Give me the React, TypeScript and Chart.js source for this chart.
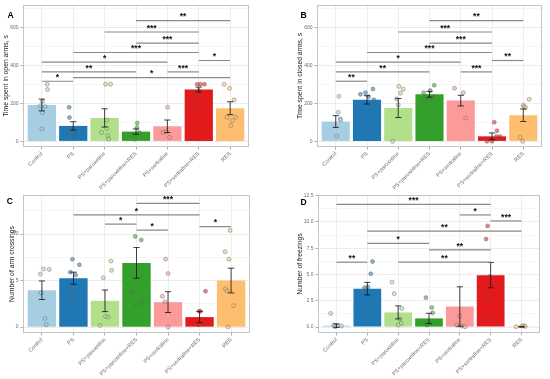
import React, { useEffect, useRef } from 'react';
import { Chart, registerables } from 'chart.js';

Chart.register(...registerables);
Chart.defaults.font.family = '"Liberation Sans", Arial, Helvetica, sans-serif';

// ---------- shared data ----------
const categories = ['Control', 'PS', 'PS+paroxetine', 'PS+paroxetine+RES', 'PS+sertraline', 'PS+sertraline+RES', 'RES'];
const groupColors = ['#A6CEE3', '#1F78B4', '#B2DF8A', '#33A02C', '#FB9A99', '#E31A1C', '#FDBF6F'];

// ---------- Panel A: Time spent in open arms ----------
const meansA = [191, 81, 123, 51, 79, 272, 174];
const seA = [31, 22, 48, 14, 33, 13, 34];
const pointsA = [
  [300, 272, 210, 186, 183, 151, 65],
  [179, 125, 59, 46, 49, 28],
  [300, 300, 112, 68, 46, 30, 11],
  [96, 72, 46, 35, 11],
  [179, 51, 46, 21],
  [300, 300, 300, 267, 247, 200],
  [300, 279, 218, 126, 126, 109, 82],
];
const jitterA = [
  [0.17, 0.18, 0.02, -0.05, 0.1, 0.02, 0],
  [-0.13, -0.12, 0.05, -0.16, 0.05, 0.02],
  [0.03, 0.19, 0.07, 0.07, -0.1, 0.1, 0.13],
  [0.04, 0.03, 0.1, -0.16, -0.04],
  [0.01, -0.03, -0.14, 0.07],
  [-0.05, 0.05, 0.18, 0, -0.1, -0.18],
  [-0.19, -0.02, 0.13, -0.1, 0.18, 0.07, 0.02],
];
const sigA: [number, number, number, string][] = [
  [4, 7, 635, '**'], [3, 6, 575, '***'], [4, 6, 516, '***'], [2, 6, 467, '***'],
  [6, 7, 425, '*'], [1, 5, 416, '*'], [1, 4, 365, '**'], [5, 6, 365, '***'],
  [2, 7, 335, '*'], [1, 2, 316, '*'],
];
const majorTicksA = [0, 200, 400, 600];
const minorTicksA = [100, 300, 500, 700];

// ---------- Panel B: Time spent in closed arms ----------
const meansB = [104, 218, 175, 247, 214, 26, 137];
const seB = [31, 22, 50, 15, 28, 18, 33];
const pointsB = [
  [237, 153, 118, 112, 28],
  [275, 256, 247, 235, 218, 177, 121],
  [289, 274, 253, 223, 191, 0],
  [295, 267, 256, 235, 235, 225, 207],
  [279, 256, 123],
  [100, 56, 25, 25, 0, 0],
  [221, 189, 182, 177, 21, 0],
];
const jitterB = [
  [0.1, 0.08, 0.14, 0.16, 0.03],
  [0.19, -0.05, -0.21, 0.05, 0.22, 0.13, -0.19],
  [0.02, 0.16, 0.07, -0.05, 0, -0.18],
  [0.15, 0.02, -0.19, -0.1, 0.14, 0, -0.17],
  [-0.2, 0.08, 0.16],
  [0.07, 0.16, 0.14, 0.26, -0.16, 0],
  [0.19, 0, 0.03, 0.07, -0.1, -0.02],
];
const sigB: [number, number, number, string][] = [
  [4, 7, 635, '**'], [3, 6, 575, '***'], [4, 6, 516, '***'], [2, 6, 467, '***'],
  [6, 7, 425, '**'], [1, 5, 416, '*'], [1, 4, 365, '**'], [5, 6, 365, '***'],
  [1, 2, 316, '**'],
];
const majorTicksB = [0, 200, 400, 600];
const minorTicksB = [100, 300, 500, 700];

// ---------- Panel C: Number of arm crossings ----------
const meansC = [3.96, 5.25, 2.82, 6.9, 2.68, 1.07, 5.0];
const seC = [1.0, 0.65, 1.16, 1.65, 1.12, 0.6, 1.33];
const pointsC = [
  [6.25, 6.2, 5.7, 3.7, 0.93, 0.25],
  [7.3, 6.7, 5.9, 5.6, 4.2, 3.7, 3.1],
  [7.1, 6.1, 5.3, 1.14, 1.07, 0.18],
  [9.75, 9.36, 6.4, 3.7, 2.68, 2.3],
  [7.3, 5.75, 3.3, 2.7, 0],
  [3.86, 1.7, 1.7, 0.25],
  [10.4, 8.1, 7.3, 4.1, 3.9, 2.3, 0],
];
const jitterC = [
  [0.05, 0.23, -0.05, -0.03, 0.1, 0.14],
  [-0.03, 0.19, -0.1, 0.07, -0.13, -0.02, -0.1],
  [0.19, 0.21, -0.05, 0.02, 0.1, -0.16],
  [-0.04, 0.15, 0.05, -0.13, 0.17, 0],
  [-0.08, 0, -0.18, -0.1, 0],
  [0.19, -0.02, 0.03, -0.04],
  [-0.03, -0.19, -0.07, -0.18, -0.13, 0.08, -0.1],
];
const sigC: [number, number, number, string][] = [
  [4, 6, 13.3, '***'], [2, 6, 12.07, '*'], [3, 4, 11.07, '*'], [6, 7, 10.8, '*'], [4, 5, 10.43, '*'],
];
const majorTicksC = [0, 5, 10];
const minorTicksC = [2.5, 7.5, 12.5];

// ---------- Panel D: Number of freezings ----------
const meansD = [0.13, 3.65, 1.39, 0.82, 1.95, 4.94, 0.02];
const seD = [0.17, 0.6, 0.62, 0.49, 1.88, 1.2, 0.03];
const pointsD = [
  [1.29, 0.19, 0.13, 0.1, 0.03],
  [6.23, 5.07, 3.81, 3.75, 1.7, 1.6],
  [4.28, 3.18, 1.76, 0.76, 0.35, 0.19],
  [2.8, 1.86, 1.35, 0.19],
  [1.04, 0.19, 0.1, 0.03],
  [9.63, 8.37, 4.82, 2.6, 0.76],
  [0.03, 0.1, 0.13, 0.06],
];
const jitterD = [
  [-0.19, -0.09, 0.02, 0.16, -0.05],
  [0.17, 0.11, 0.02, -0.09, 0.15, -0.15],
  [-0.2, -0.13, 0.12, 0.06, 0.1, 0],
  [-0.1, 0.09, 0.12, -0.07],
  [-0.01, -0.1, 0.06, 0.17],
  [-0.1, -0.15, -0.03, -0.1, 0.02],
  [-0.17, 0.01, 0.08, 0.12],
];
const sigD: [number, number, number, string][] = [
  [1, 6, 11.68, '***'], [5, 6, 10.67, '*'], [6, 7, 10.1, '***'], [2, 7, 9.13, '**'],
  [2, 4, 7.97, '*'], [4, 6, 7.34, '**'], [1, 2, 6.17, '**'], [3, 6, 6.17, '**'],
];
const majorTicksD = [0, 2.5, 5, 7.5, 10, 12.5];
const minorTicksD = [1.25, 3.75, 6.25, 8.75, 11.25];

// ---------- panel configs ----------
type Panel = {
  letter: string; title: string;
  means: number[]; se: number[]; points: number[][]; jitter: number[][];
  sig: [number, number, number, string][];
  major: number[]; minor: number[]; decimals: number;
  yMin: number; yMax: number;
  left: number; top: number; w: number; h: number;
  padTop: number; padRight: number; yWidth: number; xHeight: number;
  titlePad: number; letterX: number; letterY: number;
};

const panels: Panel[] = [
  {
    letter: 'A', title: 'Time spent in open arms, s', means: meansA, se: seA, points: pointsA, jitter: jitterA, sig: sigA,
    major: majorTicksA, minor: minorTicksA, decimals: 0, yMin: -30, yMax: 717,
    left: 0, top: 0, w: 275, h: 190, padTop: 5, padRight: 26, yWidth: 23, xHeight: 43, titlePad: 1.9, letterX: 10.5, letterY: 15.5,
  },
  {
    letter: 'B', title: 'Time spent in closed arms, s', means: meansB, se: seB, points: pointsB, jitter: jitterB, sig: sigB,
    major: majorTicksB, minor: minorTicksB, decimals: 0, yMin: -30, yMax: 717,
    left: 275, top: 0, w: 275, h: 190, padTop: 5, padRight: 8, yWidth: 42, xHeight: 43, titlePad: 20.9, letterX: 28.5, letterY: 15.5,
  },
  {
    letter: 'C', title: 'Number of arm crossings', means: meansC, se: seC, points: pointsC, jitter: jitterC, sig: sigC,
    major: majorTicksC, minor: minorTicksC, decimals: 0, yMin: -0.64, yMax: 14.2,
    left: 0, top: 190, w: 275, h: 189, padTop: 4, padRight: 25, yWidth: 23, xHeight: 46, titlePad: 7.9, letterX: 9.7, letterY: 12,
  },
  {
    letter: 'D', title: 'Number of freezings', means: meansD, se: seD, points: pointsD, jitter: jitterD, sig: sigD,
    major: majorTicksD, minor: minorTicksD, decimals: 1, yMin: -0.57, yMax: 12.57,
    left: 275, top: 190, w: 275, h: 189, padTop: 4, padRight: 10, yWidth: 43, xHeight: 46, titlePad: 20.9, letterX: 28.5, letterY: 12.5,
  },
];

function withAlpha(hex: string, a: number) {
  const r = parseInt(hex.slice(1, 3), 16), g = parseInt(hex.slice(3, 5), 16), b = parseInt(hex.slice(5, 7), 16);
  return `rgba(${r},${g},${b},${a})`;
}

const overlayPlugin = {
  id: 'overlay',
  afterDatasetsDraw(chart: any, _args: any, opts: any) {
    const p: Panel = opts.panel;
    if (!p) return;
    const { ctx, scales: { x, y } } = chart;
    ctx.save();
    // error bars
    ctx.strokeStyle = '#111';
    ctx.lineWidth = 0.8;
    p.means.forEach((m, i) => {
      const cx = x.getPixelForValue(i + 1);
      const half = x.getPixelForValue(i + 1.1) - cx;
      const yt = y.getPixelForValue(m + p.se[i]);
      const yb = y.getPixelForValue(m - p.se[i]);
      ctx.beginPath();
      ctx.moveTo(cx, yt); ctx.lineTo(cx, yb);
      ctx.moveTo(cx - half, yt); ctx.lineTo(cx + half, yt);
      ctx.moveTo(cx - half, yb); ctx.lineTo(cx + half, yb);
      ctx.stroke();
    });
    // significance brackets
    ctx.strokeStyle = '#8a8a8a';
    ctx.lineWidth = 1.2;
    ctx.fillStyle = '#111';
    ctx.font = 'bold 8.5px "Liberation Sans", Arial, sans-serif';
    ctx.textAlign = 'center';
    ctx.textBaseline = 'alphabetic';
    p.sig.forEach(([a, b, v, lab]) => {
      const x1 = x.getPixelForValue(a), x2 = x.getPixelForValue(b);
      const yy = y.getPixelForValue(v);
      ctx.beginPath();
      ctx.moveTo(x1, yy); ctx.lineTo(x2, yy);
      ctx.stroke();
      ctx.fillText(lab, (x1 + x2) / 2, yy - 1.2);
    });
    ctx.restore();
  },
  afterDraw(chart: any, _args: any, opts: any) {
    const p: Panel = opts.panel;
    if (!p) return;
    const { ctx, chartArea } = chart;
    ctx.save();
    ctx.strokeStyle = '#c4c4c4';
    ctx.lineWidth = 1;
    ctx.strokeRect(chartArea.left + 0.5, chartArea.top + 0.5, chartArea.right - chartArea.left - 1, chartArea.bottom - chartArea.top - 1);
    ctx.fillStyle = '#000';
    ctx.font = 'bold 8.5px "Liberation Sans", Arial, sans-serif';
    ctx.textAlign = 'center';
    ctx.textBaseline = 'middle';
    ctx.fillText(p.letter, p.letterX, p.letterY);
    ctx.restore();
  },
};

function PanelChart({ p }: { p: Panel }) {
  const ref = useRef<HTMLCanvasElement | null>(null);
  useEffect(() => {
    if (!ref.current) return;
    const majorSet = new Set(p.major);
    const allTicks = [...p.major, ...p.minor].filter(v => v >= p.yMin && v <= p.yMax).sort((a, b) => a - b);
    const scatterData: { x: number; y: number }[] = [];
    const scatterFill: string[] = [];
    p.points.forEach((vals, i) => {
      vals.forEach((v, j) => {
        scatterData.push({ x: i + 1 + p.jitter[i][j], y: v });
        scatterFill.push(withAlpha(groupColors[i], 0.55));
      });
    });
    const chart = new Chart(ref.current, {
      type: 'bar',
      data: {
        datasets: [
          {
            type: 'bar',
            data: p.means.map((m, i) => ({ x: i + 1, y: m })),
            backgroundColor: groupColors,
            borderWidth: 0,
            barPercentage: 0.9,
            categoryPercentage: 1,
            order: 2,
          } as any,
          {
            type: 'scatter',
            data: scatterData,
            pointRadius: 2,
            pointBackgroundColor: scatterFill,
            pointBorderColor: 'rgba(95,95,95,0.6)',
            pointBorderWidth: 0.7,
            order: 1,
          } as any,
        ],
      },
      options: {
        responsive: false,
        animation: false,
        events: [],
        layout: { padding: { top: p.padTop, right: p.padRight, left: 0, bottom: 0 } },
        plugins: {
          legend: { display: false },
          tooltip: { enabled: false },
          overlay: { panel: p },
        } as any,
        scales: {
          x: {
            type: 'linear',
            min: 0.4,
            max: 7.6,
            offset: false,
            afterBuildTicks: (scale: any) => { scale.ticks = categories.map((_, i) => ({ value: i + 1 })); },
            afterFit: (scale: any) => { scale.height = p.xHeight; },
            ticks: {
              autoSkip: false,
              minRotation: 45,
              maxRotation: 45,
              padding: 1,
              color: '#6e6e6e',
              font: { size: 5.5 },
              callback: (v: any) => categories[Math.round(Number(v)) - 1] ?? '',
            },
            grid: { offset: false, color: '#e9e9e9', lineWidth: 0.8, tickLength: 2.5, tickColor: '#9a9a9a', tickWidth: 0.8 },
            border: { display: false },
          },
          y: {
            type: 'linear',
            min: p.yMin,
            max: p.yMax,
            afterBuildTicks: (scale: any) => { scale.ticks = allTicks.map(v => ({ value: v })); },
            afterFit: (scale: any) => { scale.width = p.yWidth; },
            ticks: {
              padding: 2,
              color: '#6e6e6e',
              font: { size: 5 },
              callback: (v: any) => (majorSet.has(Number(v)) ? Number(v).toFixed(p.decimals) : ''),
            },
            grid: {
              color: (c: any) => (majorSet.has(c.tick?.value) ? '#e9e9e9' : '#f4f4f4'),
              tickColor: (c: any) => (majorSet.has(c.tick?.value) ? '#9a9a9a' : 'rgba(0,0,0,0)'),
              lineWidth: 0.8,
              tickLength: 2.5,
              tickWidth: 0.8,
            },
            border: { display: false },
            title: {
              display: true,
              text: p.title,
              color: '#222',
              font: { size: 6.8 },
              padding: { top: p.titlePad, bottom: 0 },
            },
          },
        },
      } as any,
      plugins: [overlayPlugin],
    });
    return () => chart.destroy();
  }, [p]);
  return (
    <canvas
      ref={ref}
      width={p.w}
      height={p.h}
      style={{ position: 'absolute', left: p.left, top: p.top, width: p.w, height: p.h }}
    />
  );
}

export default function App() {
  return (
    <div style={{ position: 'absolute', left: 0, top: 0, width: 550, height: 379, background: '#fff' }}>
      {panels.map(p => <PanelChart key={p.letter} p={p} />)}
    </div>
  );
}
